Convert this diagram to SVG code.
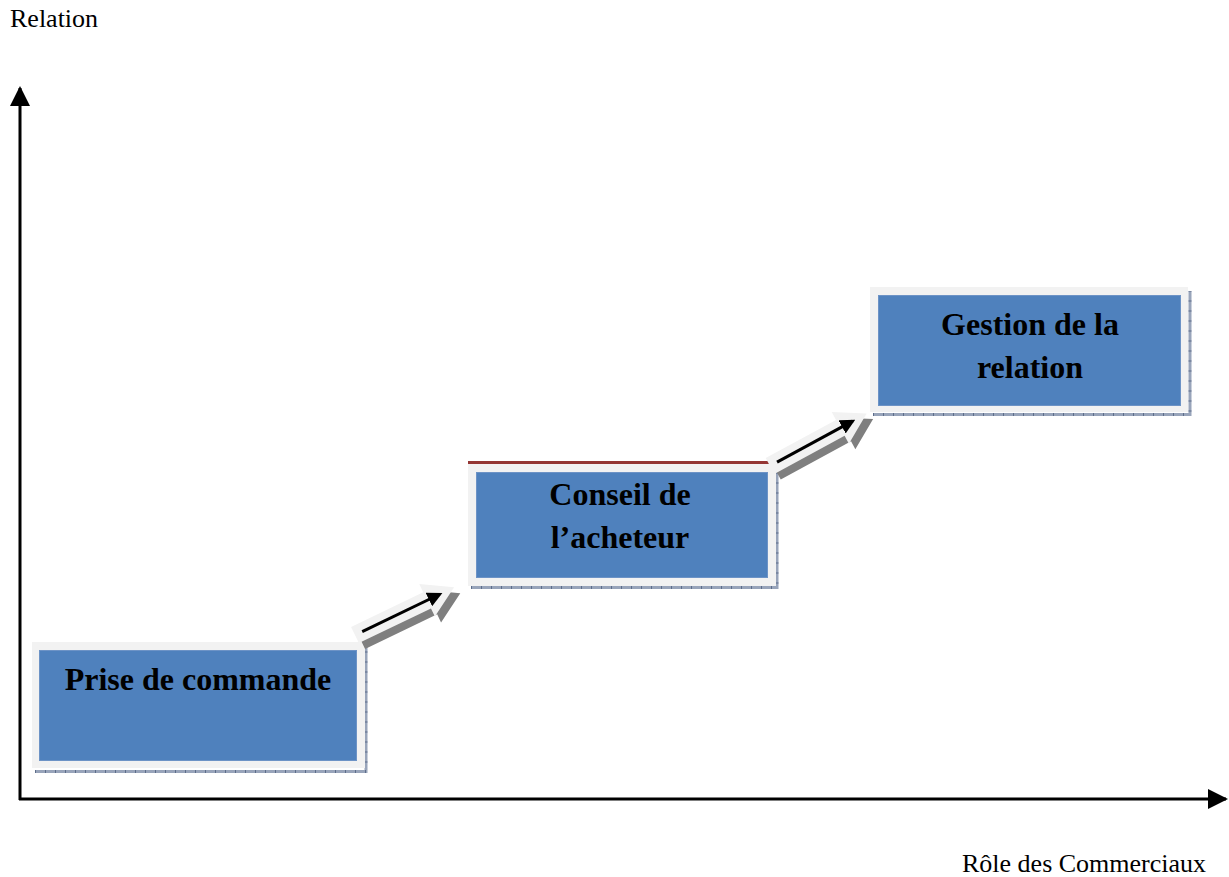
<svg xmlns="http://www.w3.org/2000/svg" width="1229" height="877" viewBox="0 0 1229 877">
  <style>
    .lbl { font-family: "Liberation Serif", "Times New Roman", serif; font-size: 26px; fill: #000; }
    .box-txt { font-family: "Liberation Serif", "Times New Roman", serif; font-size: 32px; font-weight: bold; fill: #000; text-anchor: middle; }
    .frame { fill: #f2f2f2; }
    .inner { fill: #4f81bd; stroke: #6d93c6; stroke-width: 1; }
    .shadow { fill: none; stroke: #98a4ba; stroke-width: 3; }
    .ticks { fill: none; stroke: #5d6d8a; stroke-width: 3; stroke-dasharray: 1 9; }
    .axis { stroke: #000; stroke-width: 3; fill: none; }
    .blk { fill: #f2f2f2; }
    .blk-shadow { fill: #7f7f7f; }
    .step-line { stroke: #000; stroke-width: 3; fill: none; }
  </style>
  <defs>
    <marker id="axisHead" viewBox="0 0 20 20" markerWidth="20" markerHeight="20" refX="18" refY="10" orient="auto" markerUnits="userSpaceOnUse">
      <path d="M0,0 L20,10 L0,20 Z" fill="#000"/>
    </marker>
    <marker id="stepHead" viewBox="0 0 10 10" markerWidth="15" markerHeight="15" refX="8" refY="5" orient="auto" markerUnits="userSpaceOnUse">
      <path d="M0,0 L10,5 L0,10 Z" fill="#000"/>
    </marker>
    <!-- thick block arrow, drawn along +x -->
    <path id="blockArrow" d="M0,-9 L80,-9 L80,-18 L110,0 L80,18 L80,9 L0,9 Z"/>
  </defs>

  <rect width="1229" height="877" fill="#fff"/>

  <!-- axes -->
  <g id="axes">
    <line class="axis" x1="20" y1="800" x2="20" y2="88" marker-end="url(#axisHead)"/>
    <line class="axis" x1="19" y1="799" x2="1226" y2="799" marker-end="url(#axisHead)"/>
  </g>

  <text class="lbl" x="10" y="27">Relation</text>
  <text class="lbl" x="962" y="872">Rôle des Commerciaux</text>

  <!-- step 1 -->
  <g id="prise-de-commande">
    <path class="shadow" d="M35,771.5 H366 V645"/>
    <path class="ticks" d="M35,771.5 H366 V645"/>
    <rect class="frame" x="32" y="642" width="333" height="126"/>
    <rect class="inner" x="39.5" y="650.5" width="317" height="110"/>
    <text class="box-txt" x="198" y="690">Prise de commande</text>
  </g>

  <!-- step 2 -->
  <g id="conseil-acheteur">
    <path class="shadow" d="M471,587.5 H777 V465"/>
    <path class="ticks" d="M471,587.5 H777 V465"/>
    <rect class="frame" x="468" y="462" width="308" height="124"/>
    <line x1="468" y1="462.5" x2="769" y2="462.5" stroke="#943634" stroke-width="3"/>
    <rect class="inner" x="476.5" y="472.5" width="291" height="105"/>
    <text class="box-txt" x="620" y="505">Conseil de</text>
    <text class="box-txt" x="620" y="548">l’acheteur</text>
  </g>

  <!-- step 3 -->
  <g id="gestion-relation">
    <path class="shadow" d="M873,414.5 H1190 V291"/>
    <path class="ticks" d="M873,414.5 H1190 V291"/>
    <rect class="frame" x="870" y="287" width="318" height="125"/>
    <rect class="inner" x="878.5" y="295.5" width="302" height="110"/>
    <text class="box-txt" x="1030" y="335">Gestion de la</text>
    <text class="box-txt" x="1030" y="378">relation</text>
  </g>

  <!-- connectors between steps -->
  <g id="connectors">
    <g transform="translate(355,635) rotate(-25.7)">
      <use href="#blockArrow" class="blk-shadow" transform="translate(3,8)"/>
      <use href="#blockArrow" class="blk"/>
      <line class="step-line" x1="8" y1="0" x2="94" y2="0" marker-end="url(#stepHead)"/>
    </g>
    <g transform="translate(770,466) rotate(-28.5)">
      <use href="#blockArrow" class="blk-shadow" transform="translate(3,8)"/>
      <use href="#blockArrow" class="blk"/>
      <line class="step-line" x1="8" y1="0" x2="94" y2="0" marker-end="url(#stepHead)"/>
    </g>
  </g>
</svg>
